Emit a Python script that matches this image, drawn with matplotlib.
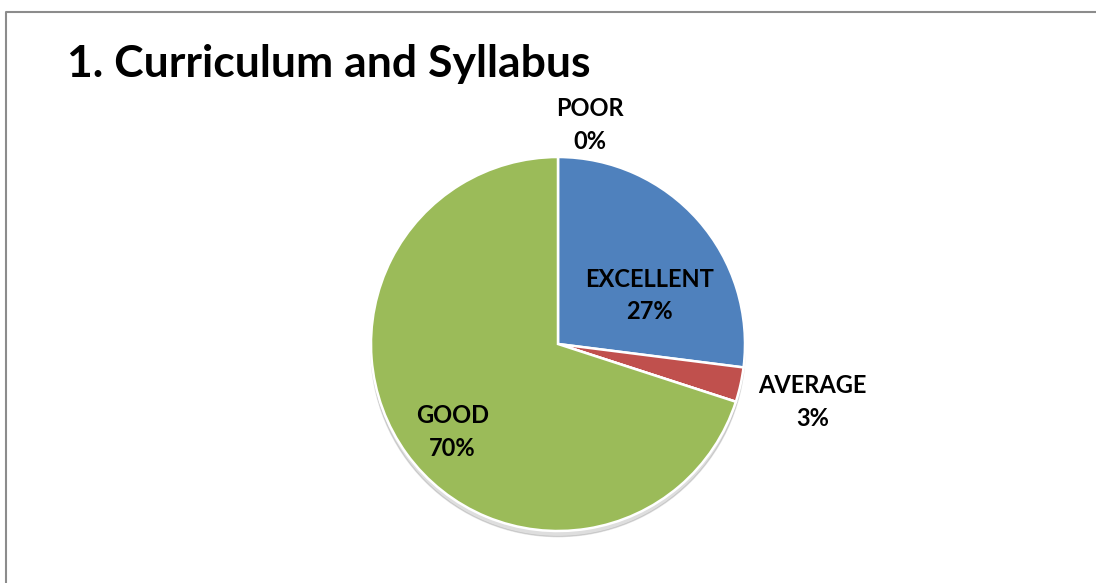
import matplotlib
matplotlib.use("Agg")
import matplotlib.pyplot as plt
from matplotlib.lines import Line2D

title = "1. Curriculum and Syllabus"
categories = ["EXCELLENT", "AVERAGE", "POOR", "GOOD"]
values = [27, 3, 0, 70]
colors = ["#4F81BD", "#C0504D", "#8064A2", "#9BBB59"]

W, H = 1096, 583
fig = plt.figure(figsize=(W / 100, H / 100), dpi=100)
fig.patch.set_facecolor("white")

cx, cy, r = 558, 344, 187
ax = fig.add_axes([(cx - r) / W, (H - cy - r) / H, 2 * r / W, 2 * r / H])
ax.set_xlim(-1, 1)
ax.set_ylim(-1, 1)
ax.set_aspect("equal")
ax.axis("off")

# subtle shadow
shadow = plt.Circle((0.0, -0.03), 1.0, color="#000000", alpha=0.13, zorder=0,
                    clip_on=False)
ax.add_patch(shadow)

wedges, _ = ax.pie(values, colors=colors, startangle=90, counterclock=False,
                   radius=1.0, wedgeprops=dict(edgecolor="white", linewidth=1.8),
                   center=(0, 0))
for w in wedges:
    w.set_zorder(2)
    w.set_clip_on(False)
ax.set_xlim(-1, 1)
ax.set_ylim(-1, 1)

font = ["Lato", "DejaVu Sans"]
label_pos = {
    "EXCELLENT": (0.49, 0.26),
    "AVERAGE": (1.36, -0.31),
    "POOR": (0.17, 1.17),
    "GOOD": (-0.565, -0.47),
}
for cat, v in zip(categories, values):
    x, y = label_pos[cat]
    ax.text(x, y, f"{cat}\n{v}%", ha="center", va="center", fontsize=17,
            fontweight="bold", family=font, color="black", linespacing=1.5,
            zorder=5, clip_on=False)

fig.text(67 / W, 1 - 64 / H, title, ha="left", va="center", fontsize=32,
         fontweight="bold", family=font, color="black")

# chart frame
fig.add_artist(Line2D([6 / W, 6 / W, 1.0], [0.0, 1 - 12 / H, 1 - 12 / H],
                      transform=fig.transFigure, color="#8c8c8c", linewidth=1.5))

fig.savefig("out.png", dpi=100, facecolor="white")
